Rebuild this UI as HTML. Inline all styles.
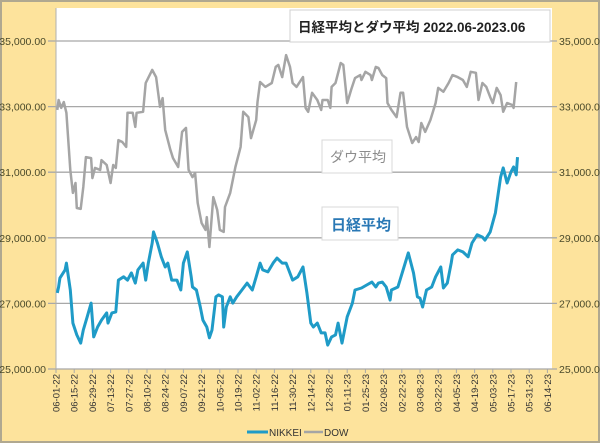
<!DOCTYPE html>
<html><head><meta charset="utf-8"><style>
html,body{margin:0;padding:0;background:#fff;}
svg{display:block;font-family:"Liberation Sans","Noto Sans CJK JP",sans-serif;}
</style></head><body>
<svg id="chart" width="600" height="444" viewBox="0 0 600 444">
<rect x="1" y="1" width="598" height="441" fill="#fde39c" stroke="#b0a890" stroke-width="2"/>
<rect x="56" y="8" width="496" height="361" fill="#ffffff"/>
<g id="grid"></g><g id="ylabels"></g><g id="xlabels"></g><g id="series"></g>
<g>
<rect x="290" y="10" width="260" height="32" fill="#fff" stroke="#d0d0d0"/>
<text x="298" y="32" font-size="13.5" font-weight="bold" fill="#222">日経平均とダウ平均 2022.06-2023.06</text>
</g>
<g>
<rect x="322" y="140" width="70" height="33" fill="#fff" stroke="#d8d8d8"/>
<text x="330" y="162" font-size="14" fill="#8c8c8c">ダウ平均</text>
</g>
<g>
<rect x="322" y="207" width="76" height="33" fill="#fff" stroke="#d8d8d8"/>
<text x="331" y="230" font-size="15" font-weight="bold" fill="#2a78b5">日経平均</text>
</g>
<g>
<line x1="247" y1="432" x2="268" y2="432" stroke="#1f9bc7" stroke-width="3"/>
<text x="269" y="436" font-size="10" fill="#333">NIKKEI</text>
<line x1="304" y1="432" x2="323" y2="432" stroke="#a5a5a5" stroke-width="2.5"/>
<text x="324" y="436" font-size="10" fill="#333">DOW</text>
</g>
</svg>
<script>
const yTicks=[25000,27000,29000,31000,33000,35000];
const xTickLabels=["06-01-22","06-15-22","06-29-22","07-13-22","07-27-22","08-10-22","08-24-22","09-07-22","09-21-22","10-05-22","10-19-22","11-02-22","11-16-22","11-30-22","12-14-22","12-28-22","01-11-23","01-25-23","02-08-23","02-22-23","03-08-23","03-22-23","04-05-23","04-19-23","05-03-23","05-17-23","05-31-23","06-14-23","06-28-23"].slice(0,28);
const dowDays=[1,2,4,6,8,11,13,15,16,19,21,23,27,28,30,34,35,39,42,44,46,48,51,54,55,59,61,62,67,69,74,77,80,82,84,88,90,94,97,100,102,105,107,109,112,115,116,118,121,124,126,129,130,134,138,142,144,148,150,154,155,157,161,166,169,171,174,177,180,182,185,190,192,194,197,201,204,205,209,211,212,215,219,221,224,227,230,234,235,238,242,243,246,248,251,254,255,258,262,265,267,270,274,277,279,281,284,288,292,294,298,302,305,309,313,316,319,323,325,328,331,334,336,339,342,344,347,351,352,354];
const dowValues=[32900,33200,32960,33140,32810,31070,30370,30670,29910,29880,30550,31460,31430,30820,31130,31070,31370,31220,30670,31220,31130,31980,31920,31770,32810,32810,32380,32810,32840,33720,34120,33900,32990,33260,32290,31680,31430,31160,32230,32350,31070,30850,30980,30060,29450,29240,29630,28720,30240,29850,29240,29180,29940,30370,31160,31770,32840,32680,32040,32590,33140,33750,33600,33720,34210,34270,33900,34570,34210,33720,33600,33900,32960,32840,33420,33200,32900,33200,33200,32960,33600,33720,34330,34270,33110,33510,33870,33960,33810,34060,33960,33810,34210,34180,33960,33870,33110,32900,32680,33420,33420,32380,31890,32070,31920,32500,32230,32590,33110,33570,33450,33720,33960,33900,33810,33600,34060,34030,33200,33720,33600,33290,33110,33570,33350,32840,33110,33050,32960,33750];
const nikkeiDays=[1,2,3,7,8,11,13,16,19,21,24,27,29,32,35,39,40,43,46,48,52,55,58,61,63,67,69,71,74,75,78,81,84,86,89,93,96,98,101,104,105,108,111,113,116,118,120,123,125,128,129,131,134,136,139,143,147,151,154,157,159,163,167,170,174,177,179,182,186,190,193,196,198,201,204,207,209,212,215,217,220,224,228,230,235,239,243,246,248,251,254,257,258,263,267,271,275,278,280,282,285,289,292,296,298,301,304,305,309,313,317,320,324,328,330,334,338,342,344,347,350,352,354,355];
const nikkeiValues=[27320,27500,27770,28020,28230,27410,26400,26040,25790,26190,26590,27010,25980,26280,26490,26710,26400,26710,26740,27710,27810,27710,27930,27620,28020,28230,27710,28230,28840,29180,28840,28420,28110,28230,27710,27710,27410,28230,28570,27810,27500,27410,26890,26490,26280,25950,26190,27200,27260,27200,26280,26890,27200,27010,27200,27410,27620,27410,27810,28230,28020,27960,28230,28380,28230,28230,28020,27710,27810,28110,27320,26400,26280,26400,26100,26100,25730,25980,26040,26400,25790,26590,27010,27410,27470,27560,27650,27500,27620,27650,27500,27100,27410,27500,28020,28540,27930,27200,27160,26890,27410,27500,27810,28110,27470,27620,28230,28480,28630,28570,28420,28840,29090,29020,28930,29180,29760,30850,31130,30670,31010,31160,30920,31460];
const tickStepDays=14;
const NS="http://www.w3.org/2000/svg";
function xs(d){return 56+d*1.3;}
function ys(v){return 369-(v-25000)*0.0328;}
function mk(tag,attrs,parent){const e=document.createElementNS(NS,tag);for(const k in attrs)e.setAttribute(k,attrs[k]);parent.appendChild(e);return e;}
const grid=document.getElementById('grid'),yl=document.getElementById('ylabels'),xl=document.getElementById('xlabels'),ser=document.getElementById('series');
yTicks.forEach(v=>{
 const y=ys(v);
 const l=mk('line',{x1:48,x2:557,y1:y,y2:y,stroke:'#a8a8a8','stroke-width':1.3},grid);
 
 
 const s=v.toLocaleString('en-US')+'.00';
 const t=mk('text',{x:46,y:y+4,'font-size':10.5,'text-anchor':'end',fill:'#4a4a2a'},yl);t.textContent=s;
 
 
 const t2=mk('text',{x:559,y:y+4,'font-size':10.5,fill:'#4a4a2a'},yl);t2.textContent=s;
 
 
});
mk('line',{x1:56,x2:56,y1:8,y2:369,stroke:'#b0b0b0'},grid);
xTickLabels.forEach((lab,i)=>{
 const x=xs(i*tickStepDays);
 mk('line',{x1:x,x2:x,y1:369,y2:373,stroke:'#a8a8a8'},grid);
 const t=mk('text',{x:0,y:0,'font-size':9.5,'text-anchor':'end',fill:'#333',transform:`translate(${x+3.5},374) rotate(-90)`},xl);t.textContent=lab;
 
 
});
function line(days,vals,color,w,name){
 const d=days.map((dd,i)=>(i?'L':'M')+xs(dd).toFixed(1)+','+ys(vals[i]).toFixed(1)).join('');
 const p=mk('path',{d:d,fill:'none',stroke:color,'stroke-width':w,'stroke-linejoin':'round'},ser);
 
 
}
line(dowDays,dowValues,'#a5a5a5',2.5,'dow-line');
line(nikkeiDays,nikkeiValues,'#1f9bc7',3,'nikkei-line');
</script>
</body></html>
